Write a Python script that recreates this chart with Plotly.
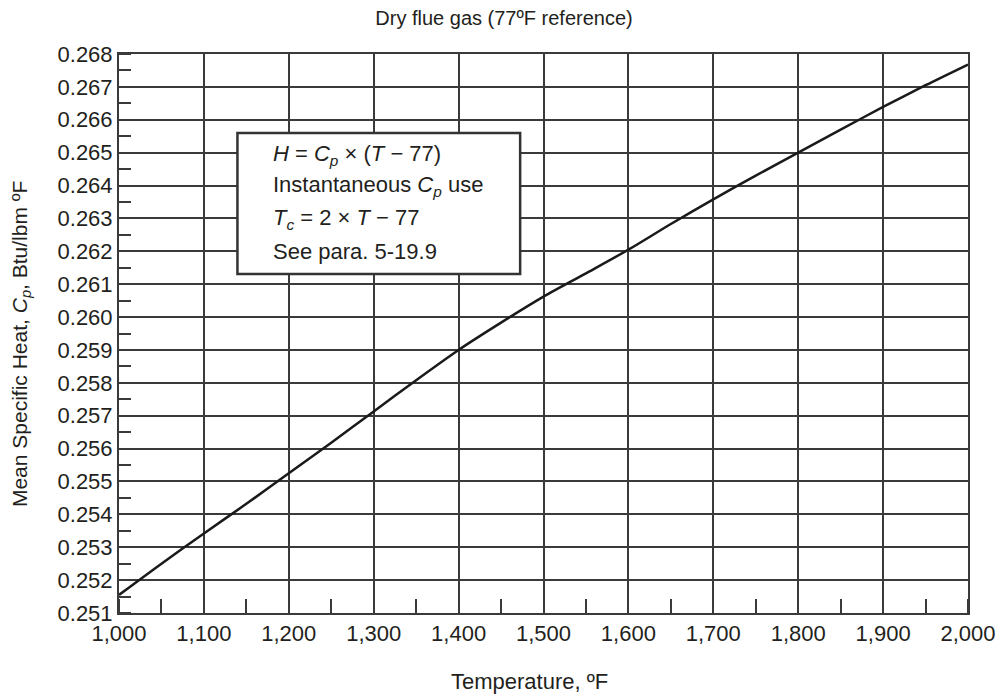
import plotly.graph_objects as go

# Data
temperature_F = [1000, 1050, 1100, 1150, 1200, 1250, 1300, 1350, 1400, 1450,
                 1500, 1550, 1600, 1650, 1700, 1750, 1800, 1850, 1900, 1950, 2000]
mean_cp = [0.25155, 0.25250, 0.25342, 0.25432, 0.25525, 0.25618, 0.25713, 0.25808,
           0.25900, 0.25983, 0.26062, 0.26133, 0.26205, 0.26283, 0.26358, 0.26430,
           0.26500, 0.26570, 0.26639, 0.26705, 0.26768]

x_ticks = [1000, 1100, 1200, 1300, 1400, 1500, 1600, 1700, 1800, 1900, 2000]
y_ticks = [0.251 + 0.001 * i for i in range(18)]

note_lines = [
    "<i>H</i> = <i>C<sub>p</sub></i> × (<i>T</i> − 77)",
    "Instantaneous <i>C<sub>p</sub></i> use",
    "<i>T<sub>c</sub></i> = 2 × <i>T</i> − 77",
    "See para. 5-19.9",
]

FONT = "Arial, Liberation Sans, sans-serif"
TXT = "#231f20"
GRID = "#3a3a3a"
TICK_SIZE = 22
TEXT_SIZE = 22
TITLE_SIZE = 20

fig = go.Figure()
fig.add_trace(go.Scatter(
    x=temperature_F, y=mean_cp, mode="lines",
    line=dict(color="#1a1a1a", width=2.5, shape="spline", smoothing=0.8),
    showlegend=False, hoverinfo="x+y",
))

# Note box
box_x0, box_x1 = 1139.5, 1472.5
box_y0, box_y1 = 0.26131, 0.26560
fig.add_shape(type="rect", xref="x", yref="y",
              x0=box_x0, x1=box_x1, y0=box_y0, y1=box_y1,
              fillcolor="white", line=dict(color="#333333", width=2.5), layer="above")
line_y = [0.26493, 0.26399, 0.26298, 0.26198]
for txt, yy in zip(note_lines, line_y):
    fig.add_annotation(x=1179, y=yy, xref="x", yref="y", text=txt,
                       showarrow=False, xanchor="left", yanchor="middle",
                       font=dict(family=FONT, size=TEXT_SIZE, color=TXT))

# Axis titles as annotations (positioned like the reference)
fig.add_annotation(text="Temperature, ºF", xref="paper", yref="paper",
                   x=0.483, y=-0.1234, xanchor="center", yanchor="middle",
                   showarrow=False, font=dict(family=FONT, size=TEXT_SIZE, color=TXT))
fig.add_annotation(text="Mean Specific Heat, <i>C<sub>p</sub></i>, Btu/lbm ºF",
                   xref="paper", yref="paper", x=-0.1155, y=0.481, textangle=-90,
                   xanchor="center", yanchor="middle", showarrow=False,
                   font=dict(family=FONT, size=21, color=TXT))

fig.update_layout(
    width=1000, height=691,
    margin=dict(l=111, r=36, t=46, b=86),
    paper_bgcolor="white", plot_bgcolor="white",
    font=dict(family=FONT, size=TEXT_SIZE, color=TXT),
    title=dict(text="Dry flue gas (77ºF reference)", x=0.496, xanchor="center",
               xref="container", yref="container", y=1 - 10 / 691, yanchor="middle",
               font=dict(family=FONT, size=TITLE_SIZE, color=TXT)),
    xaxis=dict(
        range=[1000, 2000], tickvals=x_ticks, tickformat=",d",
        showgrid=True, gridcolor=GRID, gridwidth=1.5,
        showline=True, linecolor=GRID, linewidth=2, mirror=True,
        ticks="", zeroline=False,
        tickfont=dict(family=FONT, size=TICK_SIZE, color=TXT),
        minor=dict(dtick=50, tick0=1000, ticks="inside", ticklen=14,
                   tickwidth=1.5, tickcolor=GRID, showgrid=False),
    ),
    yaxis=dict(
        range=[0.251, 0.268], tickvals=y_ticks, tickformat=".3f",
        showgrid=True, gridcolor=GRID, gridwidth=1.5,
        showline=True, linecolor=GRID, linewidth=2, mirror=True,
        ticks="", zeroline=False,
        tickfont=dict(family=FONT, size=TICK_SIZE, color=TXT),
        minor=dict(dtick=0.0005, tick0=0.251, ticks="inside", ticklen=12,
                   tickwidth=1.5, tickcolor=GRID, showgrid=False),
    ),
)

fig.write_html("out.html")
